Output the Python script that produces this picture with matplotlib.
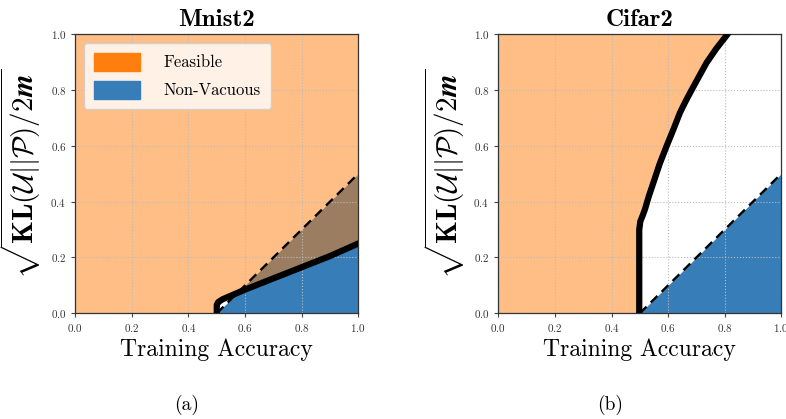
import matplotlib
matplotlib.use("Agg")
import matplotlib.pyplot as plt
from matplotlib.patches import Patch
import numpy as np

plt.rcParams['font.family'] = 'cmr10'
plt.rcParams['mathtext.fontset'] = 'cm'
plt.rcParams['axes.formatter.use_mathtext'] = True

titles = ['Mnist2', 'Cifar2']
panel_tags = ['(a)', '(b)']
ticks = [0.0, 0.2, 0.4, 0.6, 0.8, 1.0]

# feasibility boundary (thick black curve)
mnist_bx = [0.0, 0.5, 0.5, 0.505, 0.52, 0.6, 0.7, 0.8, 0.9, 1.0]
mnist_by = [0.0, 0.0, 0.03, 0.04, 0.05, 0.085, 0.125, 0.165, 0.205, 0.25]

cifar_bx = [0.0, 0.498, 0.498, 0.502, 0.51, 0.518, 0.532, 0.548, 0.57, 0.595, 0.62,
            0.642, 0.662, 0.683, 0.71, 0.736, 0.77, 0.81, 0.83]
cifar_by = [0.0, 0.0, 0.30, 0.33, 0.35, 0.372, 0.42, 0.468, 0.535, 0.60, 0.662,
            0.719, 0.76, 0.80, 0.85, 0.898, 0.948, 1.0, 1.03]

# non-vacuous limit (dashed line)
vac_x = [0.5, 1.0]
vac_y = [0.0, 0.5]

orange = '#ff7f0e'
blue = '#377eb8'

fig = plt.figure(figsize=(7.86, 4.19), dpi=100)
ax1 = fig.add_axes([0.0958, 0.2523, 0.360, 0.666])
ax2 = fig.add_axes([0.634, 0.2523, 0.360, 0.666])

for ax, title, tag, tx in zip([ax1, ax2], titles, panel_tags, [187, 610]):
    ax.fill_between(vac_x, [0, 0], vac_y, color=blue, lw=0, zorder=0.5)
    ax.plot(vac_x, vac_y, 'k--', lw=1.7, dashes=(4, 2.5), zorder=3)
    ax.set_xlim(0, 1)
    ax.set_ylim(0, 1)
    ax.set_xticks(ticks)
    ax.set_yticks(ticks)
    ax.tick_params(labelsize=8, length=3, color='#444444', labelcolor='#333333')
    ax.grid(True, ls=':', color='#bbbbbb', lw=0.8)
    ax.set_title(title, family='cmb10', fontsize=18, pad=6)
    ax.set_xlabel('Training Accuracy', fontsize=17, labelpad=3)
    ax.set_ylabel(r'$\sqrt{\mathbf{KL}(\boldsymbol{\mathcal{U}}||\boldsymbol{\mathcal{P}})/\boldsymbol{2m}}$',
                  fontsize=21, labelpad=5)
    for s in ax.spines.values():
        s.set_color('#333333')
        s.set_linewidth(0.9)
    fig.text(tx / 786, 1 - 405 / 419, tag, ha='center', va='center', fontsize=14)

# Mnist2: feasible above the curve
ax1.fill_between(mnist_bx, mnist_by, 1, color=orange, alpha=0.5, lw=0, zorder=1)
ax1.plot(mnist_bx[1:], mnist_by[1:], 'k-', lw=4.5, solid_joinstyle='round', zorder=4)

# Cifar2: feasible left of the curve
ax2.fill_betweenx(cifar_by, 0, cifar_bx, color=orange, alpha=0.5, lw=0, zorder=1)
ax2.plot(cifar_bx[1:], cifar_by[1:], 'k-', lw=4.5, solid_joinstyle='round', zorder=4)

handles = [Patch(facecolor=orange, edgecolor=orange, label='Feasible'),
           Patch(facecolor=blue, edgecolor=blue, label='Non-Vacuous')]
ax1.legend(handles=handles, loc='upper left', fontsize=12, handlelength=2.8,
           handleheight=1.3, borderpad=0.6, labelspacing=0.6, handletextpad=1.4,
           framealpha=0.8)

fig.savefig('out.png', dpi=100)
